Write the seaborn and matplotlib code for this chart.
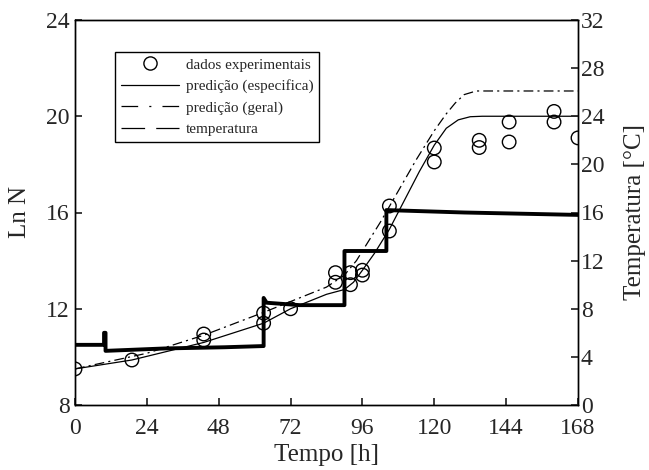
import numpy as np
import pandas as pd
import matplotlib
matplotlib.use('Agg')
import matplotlib.pyplot as plt
from matplotlib.lines import Line2D
import seaborn as sns

# dados experimentais (Tempo [h], Ln N)
t_exp = [0, 19, 43, 43, 63, 63, 72, 87, 87, 92, 92, 96, 96, 105, 105,
         120, 120, 135, 135, 145, 145, 160, 160, 168]
lnN_exp = [9.5, 9.87, 10.95, 10.7, 11.82, 11.4, 12.0, 13.5, 13.1, 13.5, 13.0,
           13.6, 13.4, 16.27, 15.23, 18.68, 18.1, 19.0, 18.7, 19.76, 18.93,
           20.2, 19.76, 19.1]

# predição (especifica)
t_esp = [0, 19, 43, 63, 72, 84, 90, 93, 96, 100, 105, 110, 115, 120, 124,
         128, 132, 136, 168]
lnN_esp = [9.5, 9.87, 10.6, 11.4, 12.0, 12.6, 12.8, 13.1, 13.6, 14.3, 15.3,
           16.5, 17.7, 18.8, 19.5, 19.85, 19.98, 20.0, 20.0]

# predição (geral)
t_ger = [0, 24, 43, 63, 72, 84, 90, 94, 98, 102, 108, 114, 120, 124, 127,
         130, 134, 168]
lnN_ger = [9.5, 10.15, 10.9, 11.85, 12.3, 12.9, 13.4, 14.0, 14.8, 15.6, 16.9,
           18.2, 19.4, 20.1, 20.55, 20.9, 21.05, 21.05]

# temperatura [°C]
t_temp = [0, 9.7, 9.7, 10.2, 10.2, 30, 50, 63, 63, 64, 75, 90, 90, 104, 104,
          130, 168]
T_temp = [5.0, 5.0, 6.0, 6.0, 4.5, 4.7, 4.8, 4.9, 8.9, 8.5, 8.3, 8.3, 12.8,
          12.8, 16.2, 16.0, 15.8]

sns.set_theme(style='ticks')
plt.rcParams['font.family'] = ['Liberation Serif', 'DejaVu Serif']
plt.rcParams['lines.scale_dashes'] = False

fig = plt.figure(figsize=(6.49, 4.70), dpi=100)
ax = fig.add_axes([75 / 649, 1 - 405 / 470, 503 / 649, 385 / 470])
ax2 = ax.twinx()

df_exp = pd.DataFrame({'t': t_exp, 'lnN': lnN_exp})
df_esp = pd.DataFrame({'t': t_esp, 'lnN': lnN_esp})
df_ger = pd.DataFrame({'t': t_ger, 'lnN': lnN_ger})
df_temp = pd.DataFrame({'t': t_temp, 'T': T_temp})

sns.lineplot(data=df_temp, x='t', y='T', ax=ax2, color='black', lw=2.8,
             sort=False, estimator=None)
sns.lineplot(data=df_esp, x='t', y='lnN', ax=ax, color='black', lw=0.9,
             estimator=None)
sns.lineplot(data=df_ger, x='t', y='lnN', ax=ax, color='black', lw=0.9,
             estimator=None, dashes=False)
ax.lines[-1].set_dashes((7, 3, 1.5, 3))
sns.scatterplot(data=df_exp, x='t', y='lnN', ax=ax, marker='o', s=95,
                facecolor='none', edgecolor='black', linewidth=1.0, zorder=5)

ax.set_xlim(0, 168)
ax.set_ylim(8, 24)
ax2.set_ylim(0, 32)
ax.set_xticks(range(0, 169, 24))
ax.set_yticks(range(8, 25, 4))
ax2.set_yticks(range(0, 33, 4))

ax.set_xlabel('Tempo [h]', fontsize=18, labelpad=4)
ax.set_ylabel('Ln N', fontsize=18, labelpad=11)
ax2.set_ylabel('Temperatura [°C]', fontsize=18, labelpad=14)

ax.tick_params(axis='both', direction='in', length=5, labelsize=17, pad=4,
               top=False, right=False)
ax.tick_params(axis='x', pad=9)
ax2.tick_params(axis='y', direction='in', length=5, labelsize=17, pad=2)
for a in (ax, ax2):
    for sp in a.spines.values():
        sp.set_visible(True)
        sp.set_color('black')
        sp.set_linewidth(1.0)

handles = [
    Line2D([], [], marker='o', ls='none', mfc='none', mec='black', ms=9.5),
    Line2D([], [], color='black', lw=0.9),
    Line2D([], [], color='black', lw=0.9, dashes=(12, 8, 1.5, 8)),
    Line2D([], [], color='black', lw=0.9, dashes=(17, 8)),
]
labels = ['dados experimentais', 'predição (especifica)',
          'predição (geral)', 'temperatura']
leg = ax.legend(handles, labels, loc='upper left', bbox_to_anchor=(0.08, 0.917),
                borderaxespad=0, fontsize=11, handlelength=3.8,
                labelspacing=0.5, borderpad=0.4, handletextpad=0.4,
                fancybox=False, framealpha=1, edgecolor='black')
leg.get_frame().set_linewidth(1.0)

fig.savefig('out.png', dpi=100)
